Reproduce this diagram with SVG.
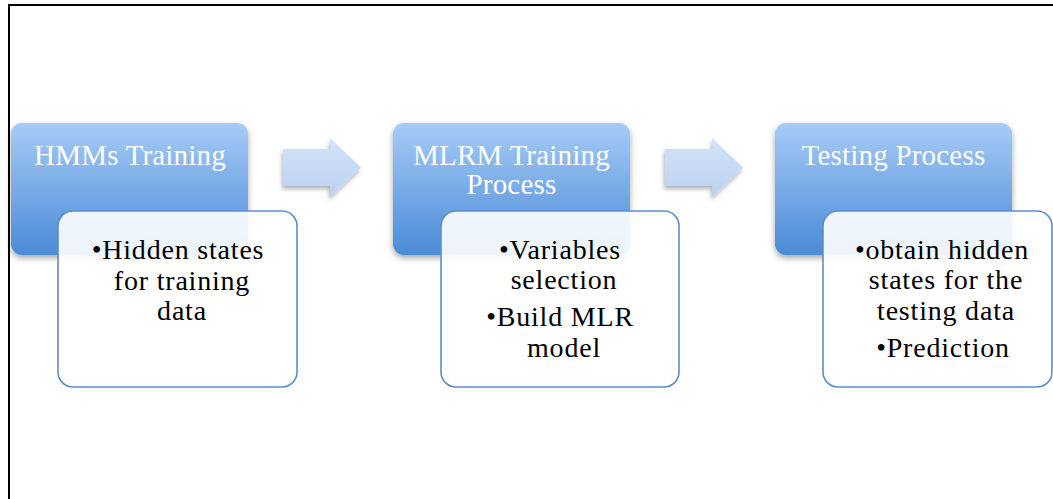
<svg xmlns="http://www.w3.org/2000/svg" width="1053" height="499" viewBox="0 0 1053 499">
<defs>
<linearGradient id="blueGrad" x1="0" y1="0" x2="0" y2="1">
<stop offset="0" stop-color="#a7cbf7"/>
<stop offset="1" stop-color="#4a8bd6"/>
</linearGradient>
<linearGradient id="arrowGrad" x1="0" y1="0" x2="0" y2="1">
<stop offset="0" stop-color="#d3e2f8"/>
<stop offset="1" stop-color="#bcd1f1"/>
</linearGradient>
<filter id="shadow" x="-20%" y="-20%" width="140%" height="150%">
<feDropShadow dx="0" dy="3" stdDeviation="3" flood-color="#000" flood-opacity="0.35"/>
</filter>
<filter id="ashadow" x="-20%" y="-20%" width="140%" height="150%">
<feDropShadow dx="-1" dy="3" stdDeviation="2" flood-color="#000" flood-opacity="0.3"/>
</filter>
</defs>
<style>
.blue{fill:url(#blueGrad);filter:url(#shadow);}
.card{fill:#ffffff;fill-opacity:0.9;stroke:#5b8fcb;stroke-width:1.6;}
.head{font-family:"Liberation Serif","DejaVu Serif",serif;font-size:29px;fill:#ffffff;text-anchor:middle;letter-spacing:0.2px;}
.body{font-family:"Liberation Serif","DejaVu Serif",serif;font-size:28px;fill:#000000;text-anchor:middle;letter-spacing:0.8px;}
.arrow{fill:url(#arrowGrad);filter:url(#ashadow);}
.frame{stroke:#000;stroke-width:2;fill:none;}
</style>
<g id="frame">
<path class="frame" d="M9,499 L9,5 L1053,5"/>
</g>
<g id="connectors">
<path class="arrow" d="M283,149 L330,149 L330,138 L361,167.5 L330,197 L330,186 L283,186 Z"/>
<path class="arrow" d="M665,149 L712,149 L712,138 L743,167.5 L712,197 L712,186 L665,186 Z"/>
</g>
<g id="node1">
<rect class="blue" x="11" y="123" width="237" height="132" rx="11"/>
<text class="head" x="130" y="165">HMMs Training</text>
<rect class="card" x="58" y="211" width="239" height="176" rx="15"/>
<text class="body" x="178" y="259">•Hidden states</text>
<text class="body" x="182" y="290">for training</text>
<text class="body" x="182" y="320">data</text>
</g>
<g id="node2">
<rect class="blue" x="393" y="123" width="237" height="132" rx="11"/>
<text class="head" x="511.5" y="165">MLRM Training</text>
<text class="head" x="511.5" y="194">Process</text>
<rect class="card" x="441" y="211" width="238" height="176" rx="15"/>
<text class="body" x="560" y="259">•Variables</text>
<text class="body" x="564" y="289">selection</text>
<text class="body" x="560" y="326">•Build MLR</text>
<text class="body" x="564" y="357">model</text>
</g>
<g id="node3">
<rect class="blue" x="775" y="123" width="237" height="132" rx="11"/>
<text class="head" x="893.5" y="165">Testing Process</text>
<rect class="card" x="823" y="211" width="229" height="176" rx="15"/>
<text class="body" x="942" y="259">•obtain hidden</text>
<text class="body" x="946" y="289">states for the</text>
<text class="body" x="946" y="320">testing data</text>
<text class="body" x="943" y="357">•Prediction</text>
</g>
</svg>
